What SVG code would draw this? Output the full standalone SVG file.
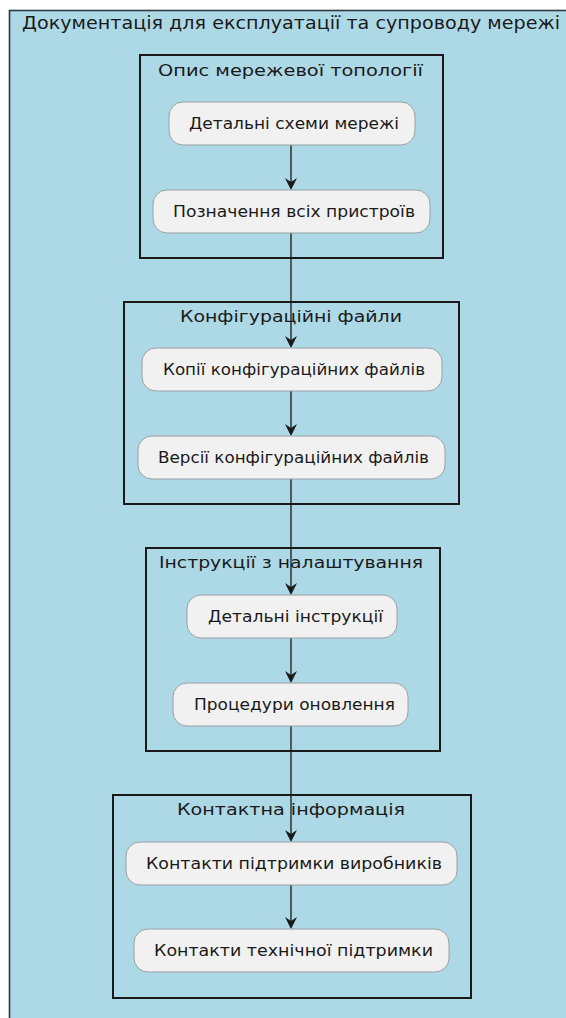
<svg xmlns="http://www.w3.org/2000/svg" width="566" height="1018" viewBox="0 0 566 1018">
<defs>
<style>
.frame{fill:#ADD8E6;stroke:#2e3b40;stroke-width:1.6}
.box{fill:none;stroke:#1a1a1a;stroke-width:2}
.node rect{fill:#F1F1F1;stroke:#9aa0a3;stroke-width:1}
.t{font-family:"DejaVu Sans",sans-serif;fill:#1a1a1a}
.nt{font-size:15px;text-anchor:middle}
.bt{font-size:16px;text-anchor:middle}
.edge{stroke:#1a1a1a;stroke-width:1.3;fill:none}
.ah{fill:#1a1a1a}
</style>
</defs>
<rect class="frame" x="9.5" y="10.5" width="570" height="1020"/>
<text class="t" x="22" y="29" font-size="18" textLength="538" lengthAdjust="spacingAndGlyphs">Документація для експлуатації та супроводу мережі</text>

<g id="cluster1">
<rect class="box" x="140" y="55" width="303" height="203"/>
<text class="t bt" x="290.5" y="76" textLength="265" lengthAdjust="spacingAndGlyphs">Опис мережевої топології</text>
</g>
<g id="cluster2">
<rect class="box" x="124" y="302" width="335" height="202"/>
<text class="t bt" x="291" y="322" textLength="222" lengthAdjust="spacingAndGlyphs">Конфігураційні файли</text>
</g>
<g id="cluster3">
<rect class="box" x="146" y="548" width="294" height="203"/>
<text class="t bt" x="291" y="568" textLength="264" lengthAdjust="spacingAndGlyphs">Інструкції з налаштування</text>
</g>
<g id="cluster4">
<rect class="box" x="113" y="795" width="358" height="203"/>
<text class="t bt" x="291" y="815" textLength="228" lengthAdjust="spacingAndGlyphs">Контактна інформація</text>
</g>

<g id="edges">
<line class="edge" x1="291" y1="145" x2="291" y2="188"/>
<polygon class="ah" points="291,190 285,178 291,182 297,178"/>
<line class="edge" x1="291" y1="233" x2="291" y2="346"/>
<polygon class="ah" points="291,348 285,336 291,340 297,336"/>
<line class="edge" x1="291" y1="391" x2="291" y2="434"/>
<polygon class="ah" points="291,436 285,424 291,428 297,424"/>
<line class="edge" x1="291" y1="479" x2="291" y2="593"/>
<polygon class="ah" points="291,595 285,583 291,587 297,583"/>
<line class="edge" x1="291" y1="638" x2="291" y2="681"/>
<polygon class="ah" points="291,683 285,671 291,675 297,671"/>
<line class="edge" x1="291" y1="726" x2="291" y2="840"/>
<polygon class="ah" points="291,842 285,830 291,834 297,830"/>
<line class="edge" x1="291" y1="885" x2="291" y2="927"/>
<polygon class="ah" points="291,929 285,917 291,921 297,917"/>
</g>

<g id="n1" class="node">
<rect x="169" y="102" width="246" height="43" rx="14"/>
<text class="t nt" x="294" y="129" textLength="210" lengthAdjust="spacingAndGlyphs">Детальні схеми мережі</text>
</g>
<g id="n2" class="node">
<rect x="153" y="190" width="277" height="43" rx="14"/>
<text class="t nt" x="294" y="217" textLength="242" lengthAdjust="spacingAndGlyphs">Позначення всіх пристроїв</text>
</g>
<g id="n3" class="node">
<rect x="142" y="348" width="300" height="43" rx="14"/>
<text class="t nt" x="294" y="375" textLength="262" lengthAdjust="spacingAndGlyphs">Копії конфігураційних файлів</text>
</g>
<g id="n4" class="node">
<rect x="138" y="436" width="307" height="43" rx="14"/>
<text class="t nt" x="293.5" y="463" textLength="271" lengthAdjust="spacingAndGlyphs">Версії конфігураційних файлів</text>
</g>
<g id="n5" class="node">
<rect x="187" y="595" width="210" height="43" rx="14"/>
<text class="t nt" x="295.5" y="622" textLength="175" lengthAdjust="spacingAndGlyphs">Детальні інструкції</text>
</g>
<g id="n6" class="node">
<rect x="173" y="683" width="235" height="43" rx="14"/>
<text class="t nt" x="294.5" y="710" textLength="201" lengthAdjust="spacingAndGlyphs">Процедури оновлення</text>
</g>
<g id="n7" class="node">
<rect x="126" y="842" width="331" height="43" rx="14"/>
<text class="t nt" x="294" y="869" textLength="296" lengthAdjust="spacingAndGlyphs">Контакти підтримки виробників</text>
</g>
<g id="n8" class="node">
<rect x="134" y="929" width="315" height="43" rx="14"/>
<text class="t nt" x="293.5" y="956" textLength="279" lengthAdjust="spacingAndGlyphs">Контакти технічної підтримки</text>
</g>
</svg>
